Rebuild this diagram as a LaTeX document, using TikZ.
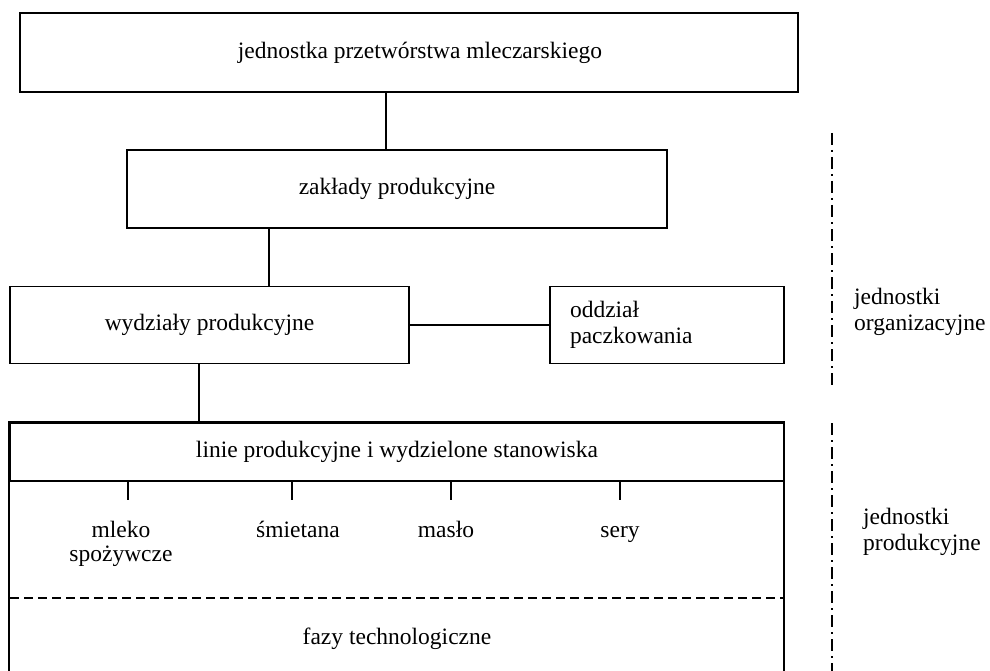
\documentclass[tikz,border=0pt]{standalone}
\usepackage{fontspec}
\setmainfont{Liberation Serif}
\begin{document}
\begin{tikzpicture}[x=1pt,y=-1pt,
  every node/.style={font=\rmfamily\fontsize{23.5}{26}\selectfont},
  box/.style={draw,line width=1.6pt,rectangle,inner sep=0pt,align=center},
  conn/.style={line width=1.6pt},
  sep/.style={line width=1.6pt},
  dashsep/.style={line width=1.4pt,dash pattern=on 9pt off 5pt},
  dashdot/.style={line width=1.6pt,dash pattern=on 12pt off 5pt on 2pt off 5pt},
  lbl/.style={inner sep=0pt,align=center,anchor=base},
  side/.style={inner sep=0pt,align=left,anchor=west}]
\useasboundingbox (0,0) rectangle (990,671);
\clip (0,0) rectangle (990,671);

\node[box,minimum width=778pt,minimum height=79pt] (top) at (409,52.5) {\hspace*{22pt}jednostka przetwórstwa mleczarskiego};
\node[box,minimum width=540pt,minimum height=78pt] (zakl) at (397,189) {zakłady produkcyjne};
\node[box,minimum width=399pt,minimum height=77pt] (wydz) at (209.5,325) {wydziały produkcyjne};
\node[box,text width=194pt,align=left,inner xsep=20pt,minimum height=77pt] (oddz) at (667,325) {oddział\\paczkowania};
\node[box,minimum width=774pt,minimum height=58pt] (linie) at (397,452) {linie produkcyjne i wydzielone stanowiska};

% lower part of production-lines box
\coordinate (lbr) at (784,690);
\draw[sep] (linie.north west) rectangle (lbr);

% connectors
\draw[conn] (top.south -| 386,0) -- (zakl.north -| 386,0);
\draw[conn] (zakl.south -| 269,0) -- (wydz.north -| 269,0);
\draw[conn] (wydz.east) -- (oddz.west);
\draw[conn] (wydz.south -| 199,0) -- (linie.north -| 199,0);

% ticks
\foreach \x/\n in {128/a,292/b,451/c,620/d}{
  \coordinate (t\n) at (\x,500);
  \draw[conn] (linie.south -| t\n) -- (t\n);
}
\node[lbl,font=\rmfamily\fontsize{23.5}{24.5}\selectfont] (mleko) at (121,561.5) {mleko\\spożywcze};
\node[lbl] (smiet) at (298,537) {śmietana};
\node[lbl] (maslo) at (446,537) {masło};
\node[lbl] (sery) at (620,537) {sery};

% dashed separator
\coordinate (dl) at (10,598);
\coordinate (dr) at (784,598);
\draw[dashsep] (dl) -- (dr);
\node[lbl] (fazy) at (397,644) {fazy technologiczne};

% dash-dot separators
\coordinate (s1a) at (832,133);
\coordinate (s1b) at (832,388);
\coordinate (s2a) at (832,423);
\coordinate (s2b) at (832,680);
\draw[dashdot] (s1a) -- (s1b);
\draw[dashdot] (s2a) -- (s2b);

\node[side] (org) at (854,312) {jednostki\\organizacyjne};
\node[side] (prod) at (863,532) {jednostki\\produkcyjne};
\end{tikzpicture}
\end{document}
